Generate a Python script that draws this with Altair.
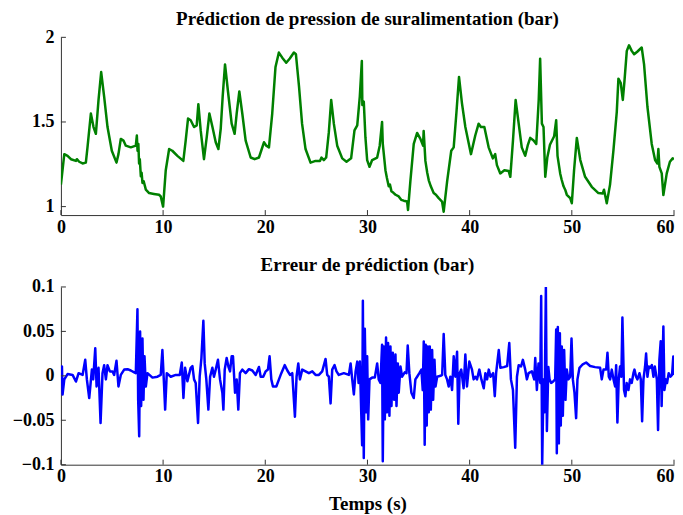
import altair as alt
import pandas as pd

# ---- Top panel: predicted boost pressure (bar) ----
T_P = [0.0, 0.33, 0.65, 0.98, 1.47, 1.56, 1.79, 2.12, 2.44, 2.6, 2.93, 3.19, 3.42, 3.68, 3.94, 4.23, 4.56, 4.98,
       5.44, 5.63, 5.86, 6.12, 6.35, 6.84, 7.33, 7.43, 7.5, 7.58, 7.65, 7.72, 7.82, 7.9, 7.98, 8.1, 8.31, 8.63,
       9.1, 9.6, 9.77, 10.0, 10.26, 10.59, 10.9, 11.4, 11.98, 12.21, 12.44, 12.7, 13.03, 13.29, 13.45, 13.68,
       14.0, 14.27, 14.53, 14.83, 15.15, 15.41, 15.64, 15.83, 16.06, 16.35, 16.71, 17.0, 17.2, 17.46, 17.75,
       18.08, 18.57, 18.96, 19.38, 19.6, 19.87, 20.1, 20.36, 20.68, 21.0, 21.33, 21.66, 22.05, 22.4, 22.8, 23.0,
       23.3, 23.6, 23.94, 24.43, 24.92, 25.35, 25.5, 25.73, 25.96, 26.22, 26.45, 26.71, 27.04, 27.53, 27.95,
       28.4, 28.73, 29.0, 29.25, 29.45, 29.5, 29.64, 29.8, 29.97, 30.2, 30.46, 30.95, 31.2, 31.43, 31.5, 31.76,
       31.9, 32.08, 32.2, 32.35, 32.57, 32.75, 33.06, 33.3, 33.55, 33.88, 33.97, 34.2, 34.53, 34.86, 35.18,
       35.44, 35.5, 35.67, 35.85, 36.0, 36.2, 36.48, 36.7, 36.97, 37.3, 37.46, 37.8, 38.2, 38.44, 38.7, 38.96,
       39.25, 39.58, 40.13, 40.55, 40.88, 41.1, 41.44, 41.86, 42.27, 42.5, 42.67, 43.0, 43.4, 43.82, 43.98,
       44.24, 44.5, 44.8, 45.1, 45.44, 45.7, 45.93, 46.26, 46.52, 46.76, 46.9, 47.07, 47.23, 47.4, 47.6, 47.86,
       48.27, 48.47, 48.6, 48.86, 49.0, 49.19, 49.35, 49.51, 49.84, 50.0, 50.22, 50.49, 50.83, 51.3, 51.95,
       52.6, 53.03, 53.15, 53.42, 53.74, 54.07, 54.4, 54.56, 54.79, 54.99, 55.15, 55.38, 55.6, 55.86, 56.1,
       56.4, 56.84, 57.07, 57.4, 57.82, 58.15, 58.37, 58.47, 58.57, 58.8, 58.96, 59.29, 59.6, 59.87, 60.0]
V_P = [1.13, 1.31, 1.30, 1.28, 1.27, 1.28, 1.265, 1.255, 1.26, 1.35, 1.55, 1.47, 1.43, 1.63, 1.795, 1.65, 1.47, 1.33,
       1.26, 1.31, 1.40, 1.39, 1.36, 1.35, 1.36, 1.42, 1.33, 1.37, 1.255, 1.28, 1.18, 1.20, 1.14, 1.15, 1.10, 1.08,
       1.075, 1.07, 1.06, 1.0, 1.215, 1.34, 1.33, 1.30, 1.27, 1.39, 1.52, 1.51, 1.47, 1.48, 1.605, 1.45,
       1.28, 1.41, 1.55, 1.47, 1.38, 1.34, 1.46, 1.65, 1.84, 1.68, 1.49, 1.43, 1.55, 1.68, 1.55,
       1.39, 1.29, 1.28, 1.29, 1.33, 1.38, 1.36, 1.35, 1.55, 1.825, 1.91, 1.88, 1.85, 1.875, 1.91, 1.90,
       1.71, 1.49, 1.34, 1.26, 1.27, 1.27, 1.29, 1.275, 1.29, 1.44, 1.63, 1.49, 1.36, 1.285, 1.265,
       1.285, 1.45, 1.48, 1.65, 1.86, 1.60, 1.62, 1.41, 1.275, 1.235, 1.275, 1.29, 1.36, 1.50, 1.37, 1.215,
       1.17, 1.12, 1.13, 1.09, 1.08, 1.07, 1.06, 1.04, 1.035, 1.03, 0.98, 1.15, 1.37, 1.435, 1.40,
       1.36, 1.447, 1.27, 1.20, 1.155, 1.12, 1.08, 1.07, 1.05, 1.03, 0.97, 1.15, 1.33, 1.35, 1.55, 1.766,
       1.61, 1.47, 1.31, 1.42, 1.49, 1.47, 1.47, 1.35, 1.285, 1.31, 1.245, 1.196, 1.215, 1.21, 1.176,
       1.39, 1.63, 1.49, 1.35, 1.30, 1.365, 1.406, 1.39, 1.37, 1.63, 1.874, 1.49, 1.47, 1.176, 1.29, 1.365,
       1.416, 1.51, 1.30, 1.196, 1.16, 1.12, 1.10, 1.07, 1.05, 1.02, 1.215, 1.406, 1.275, 1.176, 1.117,
       1.08, 1.078, 1.10, 1.02, 1.13, 1.33, 1.56, 1.756, 1.73, 1.63, 1.74, 1.92, 1.953, 1.92, 1.90,
       1.915, 1.94, 1.84, 1.59, 1.37, 1.275, 1.255, 1.34, 1.235, 1.196, 1.068, 1.196, 1.265, 1.285, 1.28]

# ---- Bottom panel: prediction error (bar) ----
T_E = [0.0, 0.1, 0.16, 0.33, 0.65, 1.14, 1.47, 1.73, 2.12, 2.38, 2.54, 2.77, 3.03, 3.16, 3.36, 3.49, 3.68, 3.88,
       4.07, 4.23, 4.4, 4.56, 4.79, 5.05, 5.21, 5.44, 5.63, 5.86, 6.19, 6.52, 6.84, 7.17, 7.33, 7.49, 7.56, 7.66,
       7.75, 7.85, 7.98, 8.08, 8.18, 8.31, 8.47, 8.96, 9.45, 9.77, 9.93, 10.1, 10.2, 10.36, 10.75, 11.24, 11.63,
       11.83, 11.99, 12.15, 12.38, 12.7, 12.87, 13.03, 13.19, 13.42, 13.58, 13.75, 13.94, 14.07, 14.23, 14.43,
       14.6, 14.82, 14.98, 15.15, 15.37, 15.57, 15.8, 15.9, 16.03, 16.22, 16.39, 16.55, 16.71, 16.84, 17.04,
       17.2, 17.36, 17.52, 17.75, 18.08, 18.4, 18.73, 19.06, 19.38, 19.55, 19.8, 20.03, 20.26, 20.42, 20.59,
       20.75, 21.08, 21.34, 21.57, 21.9, 22.16, 22.42, 22.64, 22.9, 23.06, 23.23, 23.39, 23.62, 23.94, 24.27,
       24.6, 24.92, 25.25, 25.57, 25.9, 26.06, 26.22, 26.39, 26.55, 26.78, 26.97, 27.2, 27.69, 28.18, 28.35,
       28.51, 28.67, 28.84, 29.0, 29.13, 29.26, 29.39, 29.48, 29.55, 29.64, 29.74, 29.87, 29.97, 30.07, 30.2,
       30.46, 30.72, 30.95, 31.1, 31.27, 31.43, 31.5, 31.6, 31.7, 31.82, 31.92, 32.02, 32.15, 32.25, 32.35,
       32.48, 32.61, 32.74, 32.84, 32.97, 33.06, 33.23, 33.39, 33.65, 33.82, 33.94, 34.1, 34.3, 34.53, 34.69,
       34.86, 35.08, 35.28, 35.41, 35.51, 35.6, 35.7, 35.8, 35.9, 36.0, 36.1, 36.2, 36.33, 36.43, 36.56, 36.66,
       36.82, 37.15, 37.31, 37.46, 37.62, 37.79, 37.95, 38.11, 38.28, 38.44, 38.6, 38.77, 38.89, 39.02, 39.18,
       39.41, 39.58, 39.74, 39.97, 40.23, 40.39, 40.56, 40.72, 40.95, 41.15, 41.38, 41.54, 41.71, 41.87, 42.04,
       42.3, 42.46, 42.59, 42.85, 43.01, 43.34, 43.67, 43.88, 44.04, 44.24, 44.46, 44.63, 44.8, 45.03, 45.21,
       45.44, 45.6, 45.77, 46.09, 46.32, 46.42, 46.58, 46.74, 46.91, 47.0, 47.1, 47.23, 47.33, 47.46, 47.56,
       47.7, 47.82, 47.98, 48.2, 48.37, 48.47, 48.53, 48.63, 48.73, 48.83, 48.92, 49.02, 49.12, 49.25, 49.38,
       49.51, 49.67, 49.84, 49.97, 50.1, 50.26, 50.42, 50.55, 50.75, 51.07, 51.4, 51.79, 52.28, 52.77, 52.93,
       53.1, 53.36, 53.49, 53.62, 53.75, 53.91, 54.08, 54.24, 54.34, 54.46, 54.59, 54.72, 54.85, 54.95, 55.11,
       55.24, 55.37, 55.54, 55.7, 55.86, 56.03, 56.13, 56.29, 56.42, 56.62, 56.75, 56.88, 57.01, 57.17, 57.27,
       57.4, 57.53, 57.66, 57.83, 57.99, 58.12, 58.32, 58.44, 58.57, 58.7, 58.79, 58.96, 59.06, 59.22, 59.32,
       59.48, 59.65, 59.81, 59.93, 60.0]
V_E = [0.01, 0.0105, -0.021, -0.004, 0.002, 0.001, -0.0064, 0.003, 0.001, 0.018, -0.004, -0.025, 0.007, -0.004,
       0.031, -0.012, 0.009, -0.053,
       0.003, 0.012, -0.004, 0.012, 0.005, 0.005, 0.001, 0.017, -0.012, 0.001, 0.007, 0.0075, 0.006, 0.004, 0.003,
       0.075, -0.027, -0.068,
       0.05, -0.034, 0.042, -0.027, 0.022, -0.012, 0.003, -0.002, -0.001, 0.001, 0.029, -0.012, -0.038, 0.003,
       -0.001, 0.001, 0.001,
       0.015, -0.025, 0.009, -0.006, 0.009, 0.011, -0.004, -0.008, -0.053, -0.001, 0.020, 0.062, 0.014, -0.004,
       -0.038,
       -0.001, 0.009, -0.001, 0.007, 0.018, -0.004, -0.019, -0.038, 0.007, 0.020, 0.0105, 0.005, 0.022, 0.022,
       -0.019,
       -0.004, -0.038, 0.003, 0.007, 0.003, 0.0075, 0.006, 0.001, 0.010, -0.001, -0.001, 0.005, 0.007, 0.022,
       -0.004,
       -0.012, -0.012, -0.004, 0.003, 0.012, 0.006, 0.001, 0.003, -0.046, -0.001, 0.014, -0.004, 0.007, 0.005,
       0.003,
       0.005, 0.001, 0.001, 0.005, 0.019, 0.001, -0.001, -0.031, 0.007, 0.012, 0.005, 0.001, 0.003, 0.001, 0.014,
       -0.004, -0.021, 0.005, 0.016, -0.008, 0.016, -0.041, -0.078, 0.0846, -0.0925, 0.053, -0.041, 0.022,
       -0.049, -0.004,
       -0.002, -0.002, 0.014, -0.004, -0.008, 0.035, -0.096, 0.033, -0.049, 0.043, -0.041, 0.037, -0.045, 0.033,
       -0.034,
       0.026, -0.027, 0.024, -0.034, 0.014, -0.019, 0.0105, -0.001, 0.004, 0.003, 0.034, 0.003, -0.019, -0.025,
       -0.004,
       -0.001, 0.003, 0.007, -0.016, 0.0386, -0.0775, 0.035, -0.056, 0.033, -0.041, 0.033, -0.038, 0.029, -0.027,
       0.018, -0.012,
       -0.001, 0.0, 0.001, 0.047, 0.001, -0.004, -0.012, -0.001, -0.016, 0.022, -0.001, 0.027, -0.054, 0.003,
       0.007,
       -0.014, 0.024, -0.012, 0.016, 0.007, -0.004, -0.001, -0.004, 0.007, -0.004, -0.014, 0.003, -0.004, 0.007,
       -0.001,
       0.003, -0.023, 0.003, 0.029, 0.009, 0.0098, 0.011, 0.037, -0.004, -0.016, -0.081, -0.001, 0.012, 0.0105,
       0.018,
       0.007, -0.004, 0.003, 0.005, -0.004, 0.020, -0.016, 0.014, -0.008, 0.0899, -0.1, -0.004, -0.041, 0.1,
       -0.062,
       0.010, -0.004, -0.008, -0.006, -0.004, 0.052, -0.087, 0.055, -0.076, 0.048, -0.056, 0.033, -0.045, 0.029,
       -0.027,
       0.007, -0.004, -0.001, 0.042, -0.004, -0.019, -0.0476, -0.004, 0.009, 0.013, 0.015, 0.011, 0.0098, 0.009,
       -0.004,
       0.007, 0.007, 0.026, -0.001, -0.004, 0.007, -0.004, -0.012, 0.012, -0.0524, -0.004, 0.0105, -0.001,
       0.0655, -0.016,
       -0.023, -0.008, -0.016, -0.004, -0.008, 0.003, 0.007, -0.001, -0.004, 0.003, -0.004, -0.051, -0.004,
       0.0105, 0.025,
       -0.001, 0.0105, 0.009, 0.012, -0.001, 0.0105, -0.004, -0.061, 0.018, 0.039, -0.034, 0.0554, -0.016,
       -0.004, -0.008,
       0.003, -0.001, 0.001, 0.0217, 0.001]

X_TICKS = [0, 10, 20, 30, 40, 50, 60]
Y_TICKS_P = [1, 1.5, 2]
Y_TICKS_E = [-0.1, -0.05, 0, 0.05, 0.1]

TITLE_P = "Prédiction de pression de suralimentation (bar)"
TITLE_E = "Erreur de prédiction (bar)"
X_TITLE = "Temps (s)"

W, H = 614, 178
FONT = "Liberation Serif"
AXIS_COLOR = "#333333"
LABEL_SIZE = 18
TITLE_SIZE = 19

df_p = pd.DataFrame({"t": T_P, "v": V_P})
df_e = pd.DataFrame({"t": T_E, "v": V_E})
df_xt = pd.DataFrame({"t": X_TICKS})

X_LABEL_ALIGN = {"condition": {"test": "datum.value >= 60", "value": "right"}, "value": "center"}


def panel(df, color, ydomain, yticks, title, xtitle, title_offset):
    xscale = alt.Scale(domain=[0, 60], nice=False, zero=False)
    yscale = alt.Scale(domain=ydomain, nice=False, zero=False)
    xkw = dict(values=X_TICKS, ticks=False, labelPadding=3, grid=False, format="~g",
               domainColor=AXIS_COLOR, labelFont=FONT, labelFontSize=LABEL_SIZE, labelFontWeight="bold",
               labelColor="black", labelFlush=False, labelAlign=X_LABEL_ALIGN)
    if xtitle:
        xaxis = alt.Axis(title=xtitle, titlePadding=9, titleFont=FONT, titleFontSize=TITLE_SIZE,
                         titleFontWeight="bold", titleColor="black", **xkw)
    else:
        xaxis = alt.Axis(title=None, **xkw)
    yaxis = alt.Axis(values=yticks, ticks=False, labelPadding=7, title=None, grid=False, format="~g",
                     domainColor=AXIS_COLOR, labelFont=FONT, labelFontSize=LABEL_SIZE, labelFontWeight="bold",
                     labelColor="black", labelFlush=False)
    line = alt.Chart(df).mark_line(color=color, strokeWidth=2.5, strokeJoin="round", clip=True).encode(
        x=alt.X("t:Q", scale=xscale, axis=xaxis),
        y=alt.Y("v:Q", scale=yscale, axis=yaxis),
    )
    xt = alt.Chart(df_xt).mark_rule(color=AXIS_COLOR, strokeWidth=1).encode(
        x=alt.X("t:Q", scale=xscale),
        y=alt.value(H), y2=alt.value(H - 5),
    )
    df_yt = pd.DataFrame({"v": yticks})
    yt = alt.Chart(df_yt).mark_rule(color=AXIS_COLOR, strokeWidth=1).encode(
        y=alt.Y("v:Q", scale=yscale),
        x=alt.value(0), x2=alt.value(5),
    )
    return alt.layer(line, xt, yt).properties(
        width=W, height=H,
        title=alt.TitleParams(title, font=FONT, fontSize=TITLE_SIZE, fontWeight="bold", color="black",
                              offset=title_offset),
    )


top = panel(df_p, "#008000", [0.95, 2], Y_TICKS_P, TITLE_P, None, -1)
bottom = panel(df_e, "#0000ff", [-0.1, 0.1], Y_TICKS_E, TITLE_E, X_TITLE, 3)

chart = alt.vconcat(top, bottom, spacing=20).properties(
    padding={"left": 4, "top": 2, "right": 0, "bottom": 0},
    background="white",
).configure_view(stroke=None)

chart.save("out.html", embed_options={"renderer": "svg", "actions": False})
